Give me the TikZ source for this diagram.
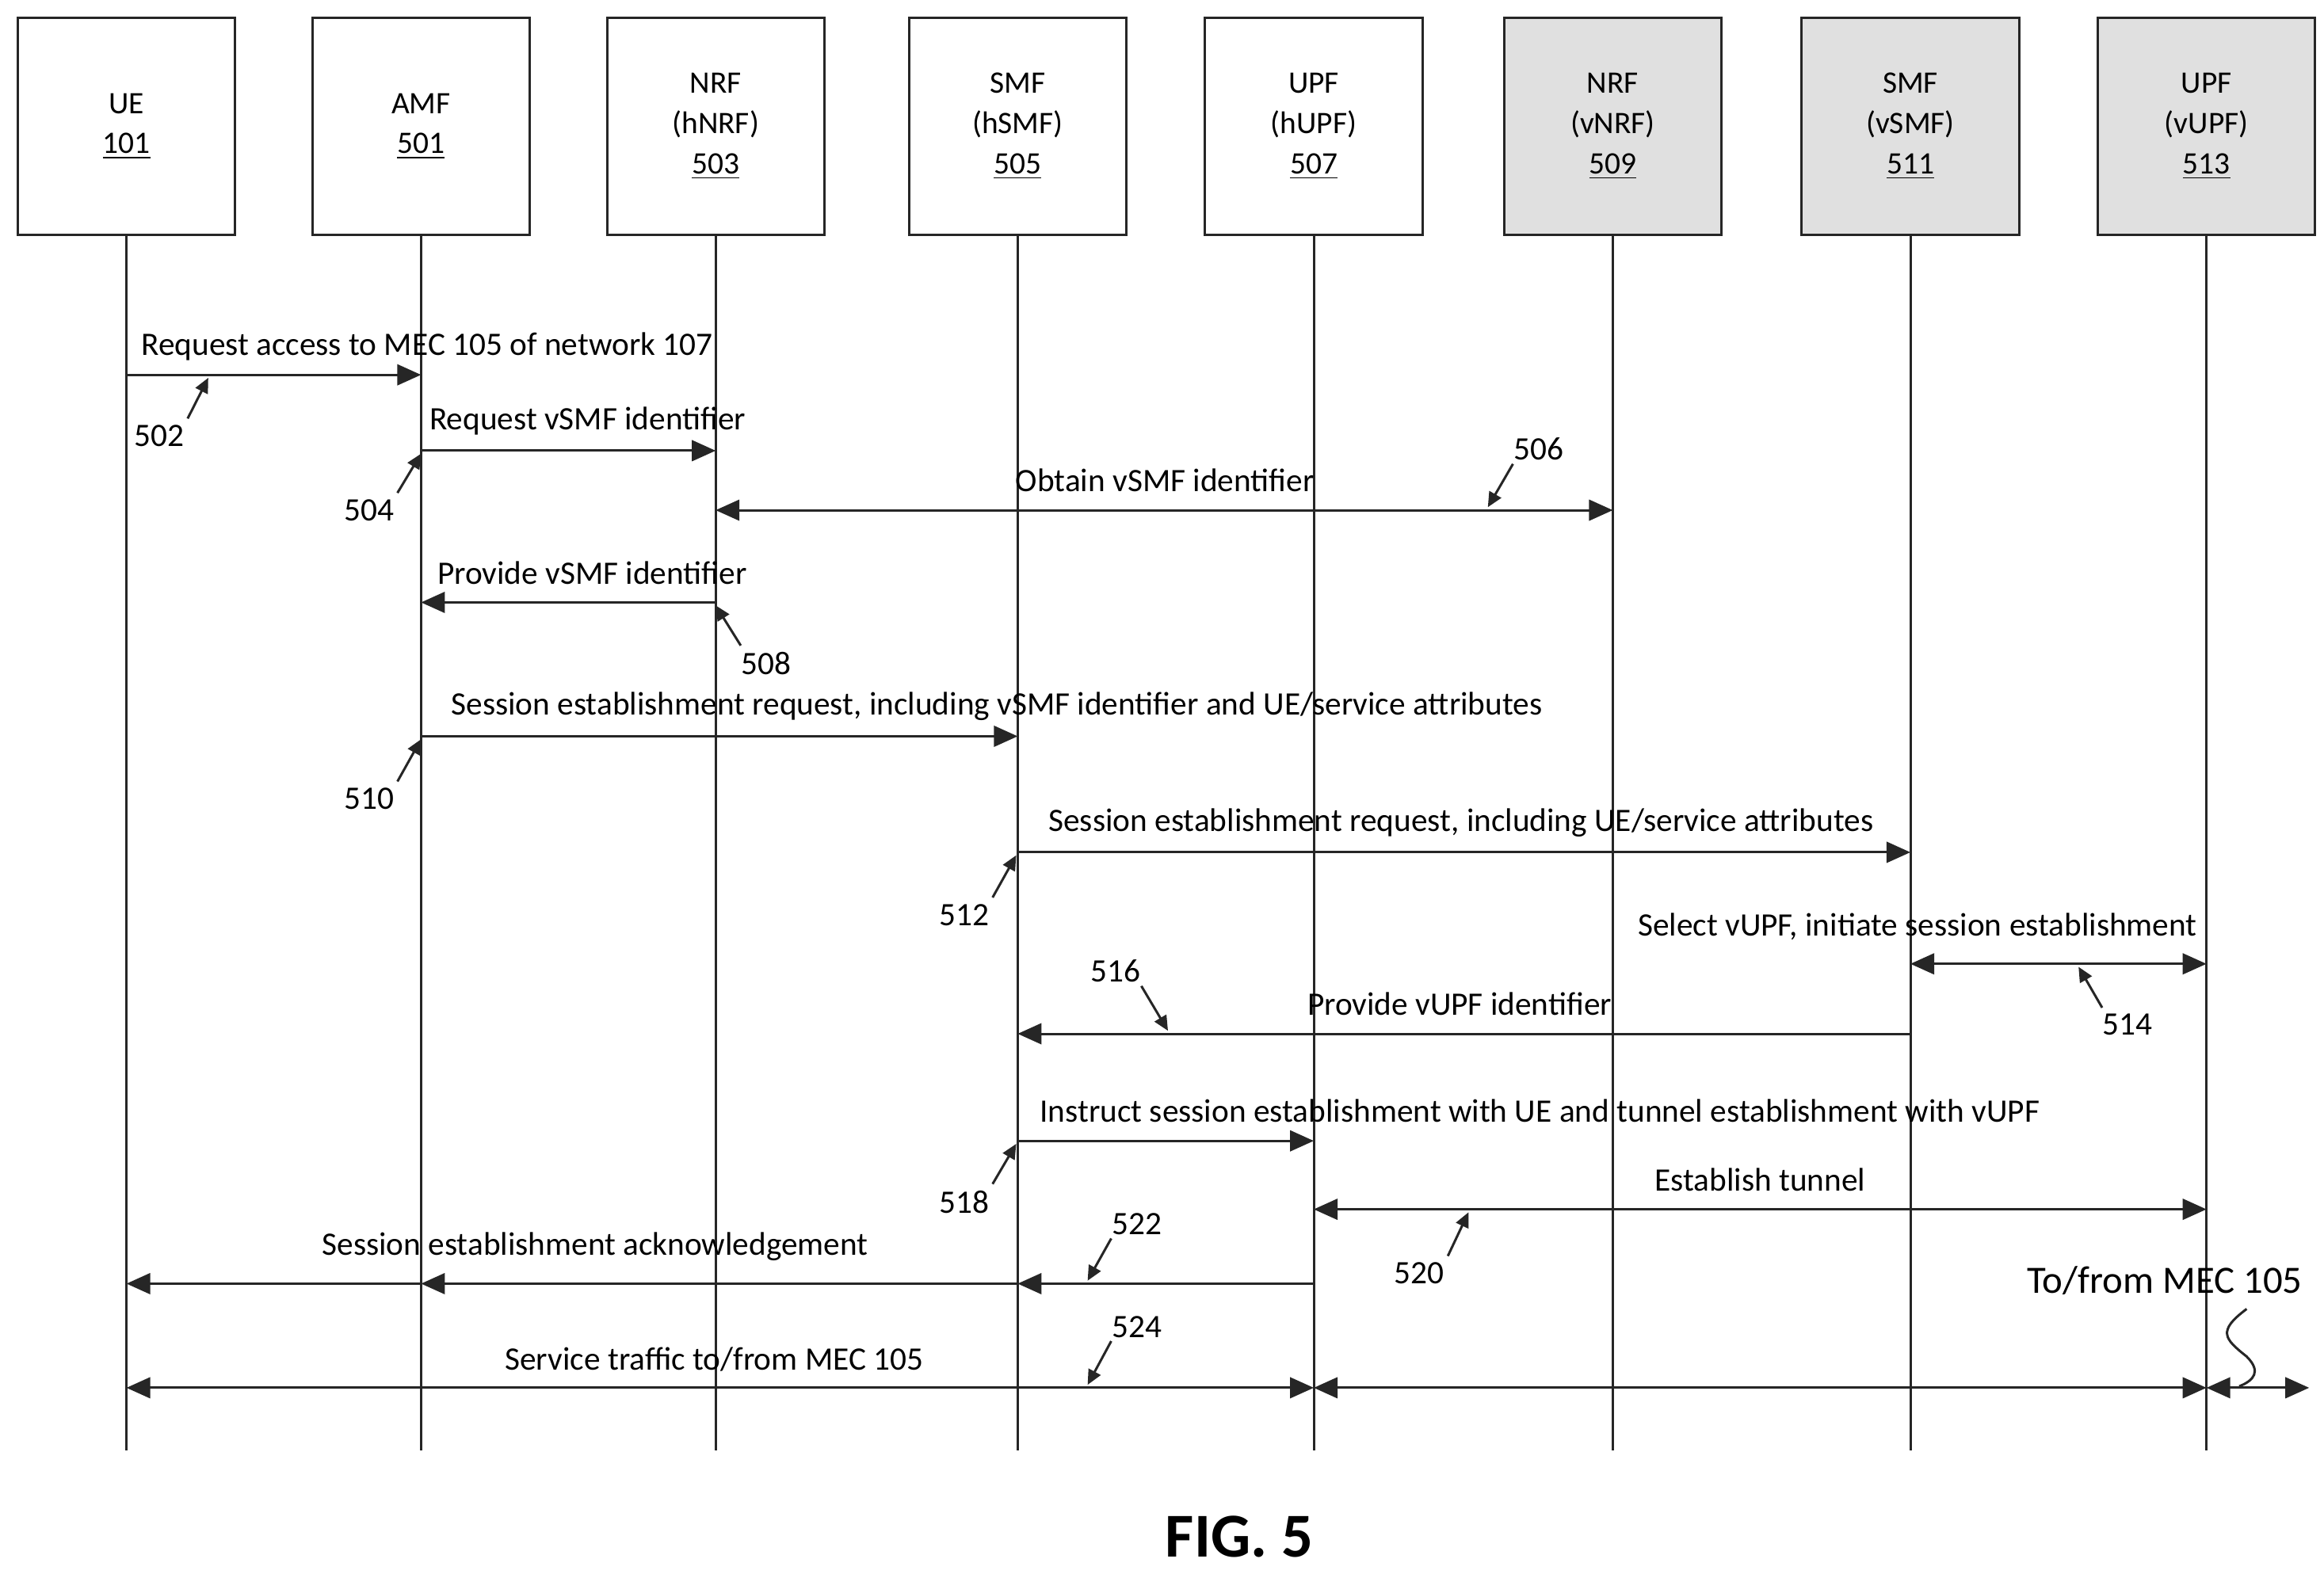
\documentclass[tikz,border=0pt]{standalone}
\usepackage{fontspec}
\setmainfont{Carlito}
\usetikzlibrary{arrows.meta}
\begin{document}
\begin{tikzpicture}[x=0.5pt,y=-0.5pt,
  ln/.style={draw=black!85,line width=0.8pt},
  box/.style={ln,minimum width=73pt,minimum height=73pt,inner sep=0pt,align=center,font=\fontsize{10.5}{13.5}\selectfont,fill=white},
  vbox/.style={box,fill=black!12},
  msg/.style={ln,-{Triangle[length=8pt,width=7pt]}},
  dmsg/.style={ln,{Triangle[length=8pt,width=7pt]}-{Triangle[length=8pt,width=7pt]}},
  lbl/.style={font=\fontsize{11}{13}\selectfont,inner sep=1pt},
  co/.style={ln,-{Triangle[length=5pt,width=4.5pt]}}]
\useasboundingbox (0,0) rectangle (1562,1058);
\foreach \n/\x/\t/\s in {ue/85/{UE\\\underline{101}}/box, amf/283/{AMF\\\underline{501}}/box, hnrf/481/{NRF\\(hNRF)\\\underline{503}}/box, hsmf/684/{SMF\\(hSMF)\\\underline{505}}/box, hupf/883/{UPF\\(hUPF)\\\underline{507}}/box, vnrf/1084/{NRF\\(vNRF)\\\underline{509}}/vbox, vsmf/1284/{SMF\\(vSMF)\\\underline{511}}/vbox, vupf/1483/{UPF\\(vUPF)\\\underline{513}}/vbox}{
  \coordinate (\n-b) at (\x,975);
  \draw[ln] (\x,158) -- (\n-b);
  \node[\s] (\n) at (\x,85) {\t};
  \foreach \y in {252,303,343,405,495,573,648,695,767,813,863,933}{\coordinate (\n\y) at (\x,\y);}
}
% 502
\draw[msg] (ue252) -- (amf252);
\node[lbl] (t502) at (287,233) {Request access to MEC 105 of network 107};
\node[lbl] (n502) at (107,293) {502};
\coordinate (c502) at (140,254);
\draw[co] (n502.north east) ++(0,-2) -- (c502);
% 504
\draw[msg] (amf303) -- (hnrf303);
\node[lbl] (t504) at (395,283) {Request vSMF identifier};
\node[lbl] (n504) at (248,343) {504};
\coordinate (c504) at (283,305);
\draw[co] (n504.north east) ++(0,-2) -- (c504);
% 506
\draw[dmsg] (hnrf343) -- (vnrf343);
\node[lbl] (t506) at (783,323) {Obtain vSMF identifier};
\node[lbl] (n506) at (1034,302) {506};
\coordinate (c506) at (1000,341);
\draw[co] (n506.south west) ++(2,0) -- (c506);
% 508
\draw[msg] (hnrf405) -- (amf405);
\node[lbl] (t508) at (398,385) {Provide vSMF identifier};
\node[lbl] (n508) at (515,446) {508};
\coordinate (c508) at (481,407);
\draw[co] (n508.north west) ++(2,-2) -- (c508);
% 510
\draw[msg] (amf495) -- (hsmf495);
\node[lbl] (t510) at (670,475) {Session establishment request, including vSMF identifier and UE/service attributes};
\node[lbl] (n510) at (248,537) {510};
\coordinate (c510) at (283,497);
\draw[co] (n510.north east) ++(0,-2) -- (c510);
% 512
\draw[msg] (hsmf573) -- (vsmf573);
\node[lbl] (t512) at (982,553) {Session establishment request, including UE/service attributes};
\node[lbl] (n512) at (648,615) {512};
\coordinate (c512) at (683,575);
\draw[co] (n512.north east) ++(0,-2) -- (c512);
% 514
\draw[dmsg] (vsmf648) -- (vupf648);
\node[lbl,anchor=east] (t514) at (1479,623) {Select vUPF, initiate session establishment};
\node[lbl] (n514) at (1430,689) {514};
\coordinate (c514) at (1397,650);
\draw[co] (n514.north west) ++(2,-2) -- (c514);
% 516
\draw[msg] (vsmf695) -- (hsmf695);
\node[lbl] (t516) at (981,675) {Provide vUPF identifier};
\node[lbl] (n516) at (750,653) {516};
\coordinate (c516) at (785,693);
\draw[co] (n516.south east) ++(-2,0) -- (c516);
% 518
\draw[msg] (hsmf767) -- (hupf767);
\node[lbl] (t518) at (1035,747) {Instruct session establishment with UE and tunnel establishment with vUPF};
\node[lbl] (n518) at (648,808) {518};
\coordinate (c518) at (683,769);
\draw[co] (n518.north east) ++(0,-2) -- (c518);
% 520
\draw[dmsg] (hupf813) -- (vupf813);
\node[lbl] (t520) at (1183,793) {Establish tunnel};
\node[lbl] (n520) at (954,856) {520};
\coordinate (c520) at (987,815);
\draw[co] (n520.north east) ++(0,-2) -- (c520);
% 522
\draw[msg] (hupf863) -- (hsmf863);
\draw[msg] (hsmf863) -- (amf863);
\draw[msg] (amf863) -- (ue863);
\node[lbl] (t522) at (400,838) {Session establishment acknowledgement};
\node[lbl] (n522) at (764,823) {522};
\coordinate (c522) at (731,861);
\draw[co] (n522.south west) ++(2,0) -- (c522);
% 524
\draw[dmsg] (ue933) -- (hupf933);
\draw[dmsg] (hupf933) -- (vupf933);
\coordinate (mec) at (1552,933);
\draw[dmsg] (vupf933) -- (mec);
\node[lbl] (t524) at (480,914) {Service traffic to/from MEC 105};
\node[lbl] (n524) at (764,892) {524};
\coordinate (c524) at (731,931);
\draw[co] (n524.south west) ++(2,0) -- (c524);
% To/from MEC
\node[font=\fontsize{13}{15}\selectfont,inner sep=1pt] (tmec) at (1455,861) {To/from MEC 105};
\coordinate (w1) at (1510,880);
\coordinate (w2) at (1505,932);
\draw[ln] (w1) .. controls (1490,895) and (1495,900) .. (1510,912) .. controls (1520,922) and (1515,928) .. (w2);
\node[font=\fontsize{21}{24}\bfseries\selectfont] (fig) at (833,1033) {FIG. 5};
\end{tikzpicture}
\end{document}
